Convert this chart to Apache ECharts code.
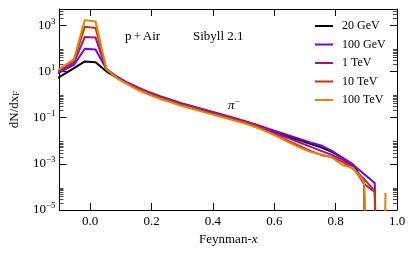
<!DOCTYPE html>
<html><head><meta charset="utf-8">
<script src="https://cdn.jsdelivr.net/npm/echarts@6/dist/echarts.min.js"></script>
<style>html,body{margin:0;padding:0;background:#fff}#c{width:415px;height:253px}</style>
</head><body><div id="c"></div>
<script>
// Feynman-x bin centres
const xF = [-0.1225,-0.0875,-0.0525,-0.0175,0.0175,0.0525,0.0875,0.1225,0.1575,0.1925,0.2275,0.2625,0.2975,0.3325,0.3675,0.4025,0.4375,0.4725,0.5075,0.5425,0.5775,0.6125,0.6475,0.6825,0.7175,0.7525,0.7875,0.8225,0.8575,0.8925,0.9275,0.9625];
// dN/dxF (0 = empty bin)
const e20GeV  = [3.8,7.2,13.9,27,25,10,5.29,2.90,1.85,1.18,0.793,0.560,0.394,0.292,0.217,0.161,0.119,0.0881,0.0653,0.0470,0.0300,0.0212,0.0149,0.0105,0.00726,0.00512,0.00327,0.00179,0.000893,0.000163,0,0];
const e100GeV = [6.3,11.1,19.4,95,88,13.0,5.85,3.21,1.95,1.24,0.834,0.588,0.415,0.307,0.228,0.169,0.125,0.0927,0.0687,0.0490,0.0340,0.0241,0.0170,0.0120,0.00843,0.00620,0.00361,0.00179,0.000893,0.000363,0.000148,0];
const e1TeV   = [7.2,13.2,24,310,290,12,5.56,3.05,1.85,1.18,0.793,0.560,0.394,0.292,0.217,0.161,0.119,0.0881,0.0653,0.0470,0.0290,0.0190,0.0125,0.00830,0.00550,0.00361,0.00242,0.00147,0.000731,0.000134,0.0000603,0];
const e10TeV  = [7.7,15.1,30,850,760,12.5,5.29,2.90,1.68,1.07,0.718,0.506,0.357,0.264,0.196,0.145,0.108,0.0798,0.0592,0.0420,0.0260,0.0160,0.00950,0.00590,0.00361,0.00242,0.00198,0.00121,0.000598,0.000220,0.0000665,0];
const e100TeV = [8.0,16.5,34,1650,1450,13,5.03,2.76,1.52,0.968,0.650,0.458,0.323,0.239,0.177,0.131,0.0975,0.0723,0.0536,0.0370,0.0241,0.0146,0.00843,0.00512,0.00327,0.00255,0.00189,0.000893,0.000661,0.000163,0,0.0000545];

const seriesNames = ['20 GeV','100 GeV','1 TeV','10 TeV','100 TeV'];
const seriesValues = [e20GeV,e100GeV,e1TeV,e10TeV,e100TeV];
const colors = ['#000000','#7202f3','#a11096','#c63700','#e48300'];
const xTicks = [0,0.2,0.4,0.6,0.8,1.0];
const yMajorTicks = [1e-5,1e-3,1e-1,1e1,1e3];
const yMinorSubs = [2,3,4,5,6,7,8,9];
const yMin = 1e-5, yMax = 5000;

const yMinorTicks = [];
yMajorTicks.forEach(m => yMinorSubs.forEach(k => { if (m*k <= yMax) yMinorTicks.push(m*k); }));

const FONT = '"Liberation Serif","DejaVu Serif",serif';

function expLabel(v){
  const e = Math.round(Math.log10(v));
  return '{b|10}{s|' + (e < 0 ? '\u2212' + (-e) : e) + '}';
}

function yAxisDef(pos, major){
  return {
    type:'log', logBase:10, min:yMin, max:yMax, position:pos,
    axisLine:{show: major, onZero:false, lineStyle:{color:'#000',width:1}},
    axisTick:{show:true, inside:true, length: major?7:4, customValues: major?yMajorTicks:yMinorTicks, lineStyle:{color:'#000',width: major?1:0.7}},
    axisLabel:{show: major && pos==='left', customValues:yMajorTicks, formatter:expLabel, margin:4, color:'#000',
      rich:{b:{fontFamily:FONT,fontSize:13,color:'#000'}, s:{fontFamily:FONT,fontSize:9,color:'#000',padding:[0,0,8,0]}}},
    splitLine:{show:false}, minorTick:{show:false}
  };
}
function xAxisDef(pos, labels){
  return {
    type:'value', min:-0.1, max:1.0, position:pos,
    axisLine:{show:true, onZero:false, lineStyle:{color:'#000',width:1}},
    axisTick:{show:true, inside:true, length:7, customValues:xTicks, lineStyle:{color:'#000',width:1}},
    axisLabel:{show:labels, customValues:xTicks, formatter:v=>v.toFixed(1), margin:5, color:'#000', fontFamily:FONT, fontSize:13},
    splitLine:{show:false}
  };
}

const xBottom = xAxisDef('bottom', true);
xBottom.name = '{a|Feynman-}{i|x}';
xBottom.nameLocation = 'middle';
xBottom.nameGap = 19;
xBottom.nameTextStyle = {rich:{a:{fontFamily:FONT,fontSize:13,color:'#000'}, i:{fontFamily:FONT,fontSize:13,fontStyle:'italic',color:'#000'}}};

const yLeft = yAxisDef('left', true);
yLeft.name = '{a|dN/dx}{s|F}';
yLeft.nameLocation = 'middle';
yLeft.nameGap = 38;
yLeft.nameRotate = 90;
yLeft.nameTextStyle = {rich:{a:{fontFamily:FONT,fontSize:13,color:'#000'}, s:{fontFamily:FONT,fontSize:9,color:'#000',padding:[5,0,0,0]}}};

const series = seriesNames.map((n,si)=>({
  name:n, type:'line', xAxisIndex:0, yAxisIndex:0, symbol:'none', clip:true,
  lineStyle:{color:colors[si], width:2, join:'round'},
  itemStyle:{color:colors[si]},
  data: xF.map((x,i)=>[x, seriesValues[si][i] === 0 ? 1e-30 : seriesValues[si][i]])
}));

const chart = echarts.init(document.getElementById('c'), null, {renderer:'canvas'});
chart.setOption({
  animation:false,
  backgroundColor:'#fff',
  grid:{left:57, right:18, top:9, bottom:43},
  xAxis:[xBottom, xAxisDef('top', false)],
  yAxis:[yLeft, yAxisDef('left', false), yAxisDef('right', true), yAxisDef('right', false)],
  legend:{orient:'vertical', left:310, top:12, itemWidth:18, itemHeight:2, itemGap:0.5, icon:'rect',
    textStyle:{fontFamily:FONT, fontSize:12, color:'#000', lineHeight:18, padding:[0,0,0,4]},
    data:seriesNames},
  graphic:[
    {type:'text', x:125, y:37, style:{text:'{a|p}{b|+}{a|Air}', verticalAlign:'middle', rich:{a:{fontFamily:FONT,fontSize:13,color:'#000'}, b:{fontFamily:FONT,fontSize:13,color:'#000',padding:[0,2,0,2]}}}},
    {type:'text', x:193, y:37, style:{text:'Sibyll 2.1', verticalAlign:'middle', font:'13px '+FONT, fill:'#000'}},
    {type:'text', x:228, y:106, style:{text:'{p|\u03c0}{s|\u2212}', verticalAlign:'middle', rich:{p:{fontFamily:FONT,fontSize:13,fontStyle:'italic',color:'#000'}, s:{fontFamily:FONT,fontSize:9,color:'#000',padding:[0,0,8,0]}}}}
  ],
  series
});
</script></body></html>
